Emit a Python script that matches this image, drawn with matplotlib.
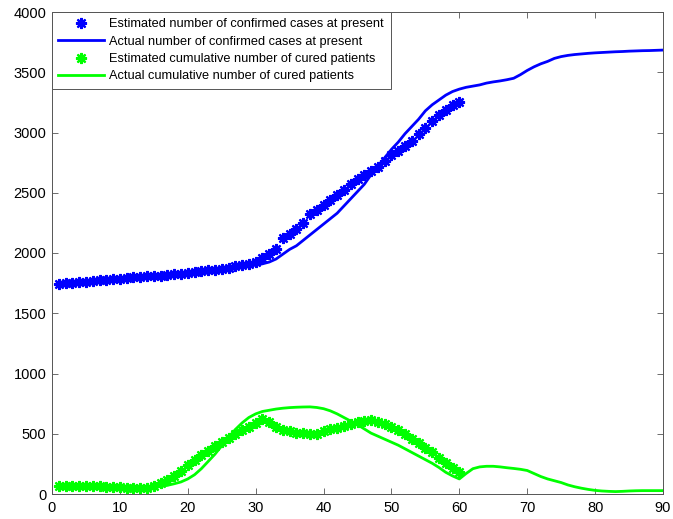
import matplotlib
matplotlib.use("Agg")
import matplotlib.pyplot as plt
import numpy as np

# ── data ──────────────────────────────────────────────────────────────────────
days_est = np.arange(1, 61)
days_act = np.arange(1, 91)

confirmed_est = [
    1745, 1750, 1754, 1758, 1762, 1767, 1772, 1777, 1783, 1788,
    1793, 1797, 1801, 1805, 1809, 1813, 1818, 1823, 1828, 1834,
    1841, 1848, 1855, 1862, 1870, 1879, 1888, 1898, 1910, 1928,
    1960, 1995, 2030, 2125, 2160, 2200, 2250, 2320, 2360, 2400,
    2440, 2480, 2525, 2570, 2610, 2645, 2680, 2715, 2760, 2810,
    2845, 2885, 2930, 2985, 3040, 3095, 3145, 3190, 3225, 3250,
]

confirmed_act = [
    1740, 1742, 1745, 1748, 1752, 1756, 1760, 1765, 1770, 1775,
    1780, 1784, 1788, 1792, 1796, 1800, 1804, 1808, 1812, 1817,
    1822, 1828, 1835, 1843, 1851, 1860, 1870, 1880, 1890, 1900,
    1910, 1925, 1950, 1990, 2030, 2060, 2105, 2150, 2195, 2240,
    2285, 2330, 2390, 2450, 2510, 2570, 2650, 2720, 2790, 2860,
    2920, 2990, 3050, 3110, 3180, 3230, 3270, 3310, 3340, 3360,
    3375, 3385, 3395, 3410, 3420, 3428, 3438, 3450, 3480, 3515,
    3545, 3570, 3590, 3615, 3630, 3640, 3647, 3652, 3657, 3661,
    3664, 3667, 3670, 3672, 3675, 3677, 3679, 3680, 3682, 3684,
]

cured_est = [
    70, 70, 70, 68, 68, 67, 65, 62, 58, 55,
    53, 52, 50, 50, 65, 90, 115, 150, 190, 240,
    285, 325, 355, 395, 430, 465, 500, 530, 560, 590,
    620, 600, 560, 530, 520, 510, 505, 495, 500, 520,
    540, 550, 565, 585, 600, 605, 610, 600, 585, 560,
    530, 495, 460, 420, 380, 345, 300, 255, 215, 180,
]

cured_act = [
    75, 74, 73, 72, 70, 68, 66, 63, 60, 57,
    55, 53, 52, 52, 55, 62, 72, 85, 100, 125,
    160, 210, 270, 330, 400, 470, 535, 590, 635, 665,
    685, 695, 705, 712, 717, 720, 722, 723, 718, 708,
    690, 665, 635, 605, 575, 540, 505, 480, 455, 430,
    405, 375, 345, 315, 285, 255, 220, 180, 150, 125,
    170, 210, 225, 230, 230, 225, 218, 212, 205, 195,
    170, 145, 125, 110, 95, 75, 60, 48, 38, 30,
    25, 22, 20, 22, 25, 27, 28, 28, 28, 28,
]

labels = [
    "Estimated number of confirmed cases at present",
    "Actual number of confirmed cases at present",
    "Estimated cumulative number of cured patients",
    "Actual cumulative number of cured patients",
]

BLUE  = "#0000ff"
GREEN = "#00ff00"
ASTER = (8, 2, 0)   # asterisk marker, like MATLAB '*'

plt.rcParams["font.family"] = ["Liberation Sans", "DejaVu Sans"]

# ── figure ────────────────────────────────────────────────────────────────────
fig = plt.figure(figsize=(6.73, 5.19), dpi=100)
ax = fig.add_axes([52 / 673, 25 / 519, 611 / 673, 482 / 519])

ax.plot(days_est, confirmed_est, linestyle="none", marker=ASTER, ms=8,
        mew=1.6, color=BLUE, label=labels[0], zorder=3)
ax.plot(days_act, confirmed_act, color=BLUE, lw=2.0, label=labels[1], zorder=2)
ax.plot(days_est, cured_est, linestyle="none", marker=ASTER, ms=8,
        mew=1.6, color=GREEN, label=labels[2], zorder=3)
ax.plot(days_act, cured_act, color=GREEN, lw=2.0, label=labels[3], zorder=2)

ax.set_xlim(0, 90)
ax.set_ylim(0, 4000)
ax.set_xticks(np.arange(0, 91, 10))
ax.set_yticks(np.arange(0, 4001, 500))
ax.tick_params(direction="in", top=True, right=True, length=4,
               width=0.6, color="#555555", labelsize=10.5)
ax.tick_params(axis="x", pad=5)
ax.tick_params(axis="y", pad=4)
for sp in ax.spines.values():
    sp.set_color("#555555")
    sp.set_linewidth(0.7)

leg = ax.legend(loc="upper left", fontsize=9.2, handlelength=3.6,
                handletextpad=0.4, labelspacing=0.42, borderpad=0.5,
                borderaxespad=0.0, fancybox=False, framealpha=1,
                edgecolor="#555555")
leg.get_frame().set_linewidth(0.7)

fig.savefig("out.png", dpi=100)
